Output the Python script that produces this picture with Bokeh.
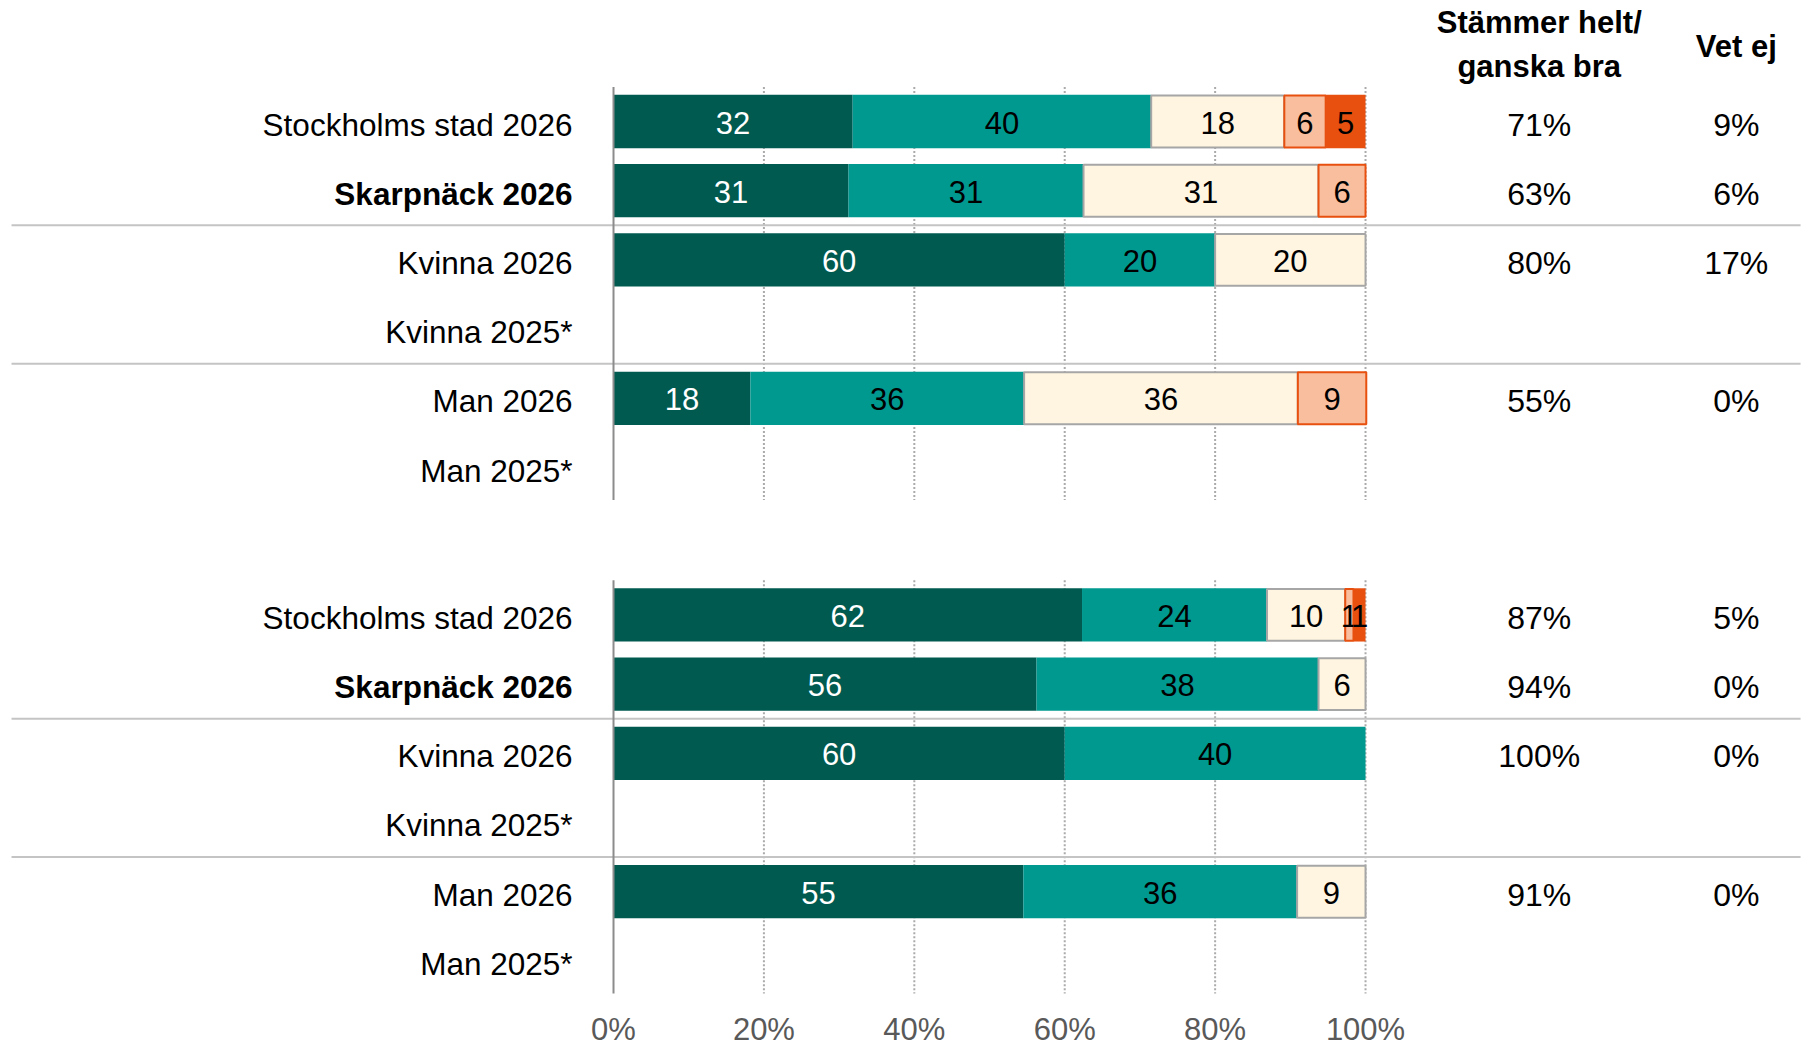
from bokeh.plotting import figure
from bokeh.models import ColumnDataSource, Range1d
from bokeh.core.properties import value
from bokeh.embed import file_html
from bokeh.resources import INLINE

# ---------------- data ----------------
row_labels = ["Stockholms stad 2026", "Skarpnäck 2026", "Kvinna 2026",
              "Kvinna 2025*", "Man 2026", "Man 2025*"]
bold_rows = ["Skarpnäck 2026"]

segments = ["Stämmer helt", "Stämmer ganska bra", "Varken eller",
            "Stämmer ganska dåligt", "Stämmer inte alls"]
seg_colors = ["#005A50", "#009990", "#FFF5E1", "#F8BE9E", "#E8500F"]
seg_lines = [None, None, "#A6A6A6", "#E8500F", None]
seg_text = ["white", "black", "black", "black", "black"]

# group 1 (widths in %)
g1_values = [
    [31.8, 39.7, 17.7, 5.5, 5.3],
    [31.25, 31.25, 31.25, 6.25, 0],
    [60, 20, 20, 0, 0],
    None,
    [18.2, 36.4, 36.4, 9.1, 0],
    None,
]
g1_labels = [
    [32, 40, 18, 6, 5],
    [31, 31, 31, 6, None],
    [60, 20, 20, None, None],
    None,
    [18, 36, 36, 9, None],
    None,
]
g1_agree = ["71%", "63%", "80%", "", "55%", ""]
g1_dontknow = ["9%", "6%", "17%", "", "0%", ""]

# group 2
g2_values = [
    [62.3, 24.6, 10.4, 1.1, 1.6],
    [56.25, 37.5, 6.25, 0, 0],
    [60, 40, 0, 0, 0],
    None,
    [54.5, 36.4, 9.1, 0, 0],
    None,
]
g2_labels = [
    [62, 24, 10, 1, 1],
    [56, 38, 6, None, None],
    [60, 40, None, None, None],
    None,
    [55, 36, 9, None, None],
    None,
]
g2_agree = ["87%", "94%", "100%", "", "91%", ""]
g2_dontknow = ["5%", "0%", "0%", "", "0%", ""]

header_agree = ["Stämmer helt/", "ganska bra"]
header_dk = "Vet ej"
x_ticks = [0, 20, 40, 60, 80, 100]
x_tick_labels = ["0%", "20%", "40%", "60%", "80%", "100%"]

# ---------------- layout constants ----------------
FONT = "Liberation Sans"
G2_OFFSET = 7.13
BAR_H = 0.77
LABEL_X = -5.45
COL1_X = 123.1
COL2_X = 149.3
SEP_X0, SEP_X1 = -80.05, 157.85
TICK_Y = -13.12

W, H = 1803, 1048
p = figure(width=W, height=H,
           x_range=Range1d(-81.516, 158.24), y_range=Range1d(-(H - 121) / 69.2, 121 / 69.2),
           output_backend="svg", toolbar_location=None,
           min_border=0)
p.outline_line_color = None
p.background_fill_color = "white"
p.border_fill_color = "white"
p.grid.visible = False
p.axis.visible = False

# x tick labels drawn through the x scale
p.text(x=x_ticks, y=[TICK_Y] * len(x_ticks), text=x_tick_labels,
       text_align="center", text_baseline="middle", text_font=value(FONT),
       text_font_size="31px", text_color="#595959", text_line_height=1.0)

groups = [(0.0, g1_values, g1_labels, g1_agree, g1_dontknow),
          (G2_OFFSET, g2_values, g2_labels, g2_agree, g2_dontknow)]

for off, vals, labs, agree, dk in groups:
    top = -(off - 0.5)
    bot = -(off + 5.5)
    # gridlines
    p.segment(x0=x_ticks[1:], x1=x_ticks[1:], y0=[top] * 5, y1=[bot + 0.03] * 5,
              line_color="#ABABAB", line_width=2, line_dash="2 2")
    # separators
    sy = [-(off + 1.5), -(off + 3.5)]
    p.segment(x0=[SEP_X0] * 2, x1=[SEP_X1] * 2, y0=sy, y1=sy,
              line_color="#C4C4C4", line_width=2)

    # bars
    for k in range(5):
        lefts, rights, ys, tx, ty, tl = [], [], [], [], [], []
        for i, row in enumerate(vals):
            if row is None:
                continue
            left = sum(row[:k])
            w = row[k]
            if w <= 0:
                continue
            yy = -(off + i)
            lefts.append(left)
            rights.append(left + w)
            ys.append(yy)
            lab = labs[i][k]
            if lab is not None:
                tx.append(left + w / 2)
                ty.append(yy)
                tl.append(str(lab))
        src = ColumnDataSource(dict(left=lefts, right=rights, y=ys))
        if seg_lines[k] is None:
            p.hbar(y="y", left="left", right="right", height=BAR_H, source=src,
                   fill_color=seg_colors[k], line_color=None)
        else:
            p.hbar(y="y", left="left", right="right", height=BAR_H - 0.02, source=src,
                   fill_color=seg_colors[k], line_color=seg_lines[k], line_width=2)
        tsrc = ColumnDataSource(dict(x=tx, y=ty, t=tl))
        p.text(x="x", y="y", text="t", source=tsrc, text_align="center",
               text_baseline="middle", text_font=value(FONT),
               text_font_size="31px", text_color=seg_text[k], y_offset=1)

    # axis line of the group
    p.segment(x0=[0], x1=[0], y0=[top], y1=[bot + 0.03], line_color="#8C8C8C", line_width=2)

    # row labels
    ys_all = [-(off + i) for i in range(len(row_labels))]
    normal = [(l, y) for l, y in zip(row_labels, ys_all) if l not in bold_rows]
    bold = [(l, y) for l, y in zip(row_labels, ys_all) if l in bold_rows]
    for items, style in ((normal, "normal"), (bold, "bold")):
        p.text(x=[LABEL_X] * len(items), y=[y for _, y in items],
               text=[l for l, _ in items], text_align="right",
               text_baseline="middle", text_font=value(FONT),
               text_font_size="31.5px", text_font_style=style,
               text_color="black", y_offset=3)

    # right columns
    p.text(x=[COL1_X] * len(agree), y=ys_all, text=agree, text_align="center",
           text_baseline="middle", text_font=value(FONT), text_font_size="32px",
           text_color="black", y_offset=3)
    p.text(x=[COL2_X] * len(dk), y=ys_all, text=dk, text_align="center",
           text_baseline="middle", text_font=value(FONT), text_font_size="32px",
           text_color="black", y_offset=3)

# headers
p.text(x=[COL1_X, COL1_X], y=[1.43, 0.79], text=header_agree, text_align="center",
       text_baseline="middle", text_font=value(FONT), text_font_size="31px",
       text_font_style="bold", text_color="black")
p.text(x=[COL2_X], y=[1.08], text=[header_dk], text_align="center",
       text_baseline="middle", text_font=value(FONT), text_font_size="31px",
       text_font_style="bold", text_color="black")

open("out.html", "w").write(file_html(p, INLINE))
